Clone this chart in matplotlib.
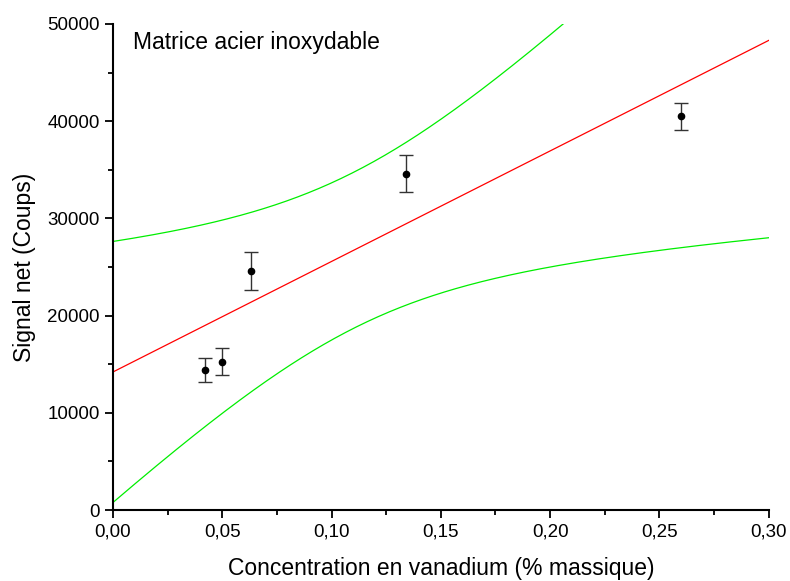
import numpy as np
import matplotlib
matplotlib.use("Agg")
import matplotlib.pyplot as plt
from matplotlib.ticker import MultipleLocator, FuncFormatter

plt.rcParams['font.family'] = ['Liberation Sans', 'DejaVu Sans']

# measured points
conc = [0.042, 0.050, 0.063, 0.134, 0.260]
signal = [14430, 15260, 24590, 34600, 40500]
signal_err = [1250, 1370, 2000, 1880, 1390]

# linear fit
fit_intercept = 14200
fit_slope = 113700
fit_sd = 5640      # residual std dev of the fit
t_95 = 3.182       # student t, 3 dof

x = np.array(conc)
n = len(x)
sxx = np.sum((x - x.mean())**2)

xx = np.linspace(0, 0.30, 300)
yfit = fit_intercept + fit_slope * xx
hw = t_95 * fit_sd * np.sqrt(1.0 / n + (xx - x.mean())**2 / sxx)

fig = plt.figure(figsize=(7.9, 5.81), dpi=100)
ax = fig.add_axes([0.143, 0.1222, 0.830, 0.8365])

ax.plot(xx, yfit, color='#ff0000', lw=0.9)
ax.plot(xx, yfit + hw, color='#00ee00', lw=0.9)
ax.plot(xx, yfit - hw, color='#00ee00', lw=0.9)
ax.errorbar(conc, signal, yerr=signal_err, fmt='o', color='black', ms=4.5,
            ecolor='#333333', elinewidth=1, capsize=5, capthick=1)

ax.set_xlim(0, 0.30)
ax.set_ylim(0, 50000)
ax.xaxis.set_major_locator(MultipleLocator(0.05))
ax.xaxis.set_minor_locator(MultipleLocator(0.025))
ax.yaxis.set_major_locator(MultipleLocator(10000))
ax.yaxis.set_minor_locator(MultipleLocator(5000))
ax.xaxis.set_major_formatter(FuncFormatter(lambda v, p: ('%.2f' % v).replace('.', ',')))
ax.yaxis.set_major_formatter(FuncFormatter(lambda v, p: '%d' % v))

for side in ['top', 'right']:
    ax.spines[side].set_visible(False)
for side in ['left', 'bottom']:
    ax.spines[side].set_linewidth(1.5)
ax.tick_params(which='major', direction='out', length=6, width=1.3, labelsize=13.5)
ax.tick_params(which='minor', direction='out', length=3.5, width=1.3)

ax.set_xlabel('Concentration en vanadium (% massique)', fontsize=16.5, labelpad=12)
ax.set_ylabel('Signal net (Coups)', fontsize=16.5, labelpad=8)
ax.text(0.03, 0.985, 'Matrice acier inoxydable', transform=ax.transAxes,
        fontsize=16.5, ha='left', va='top')

fig.savefig('out.png', dpi=100)
